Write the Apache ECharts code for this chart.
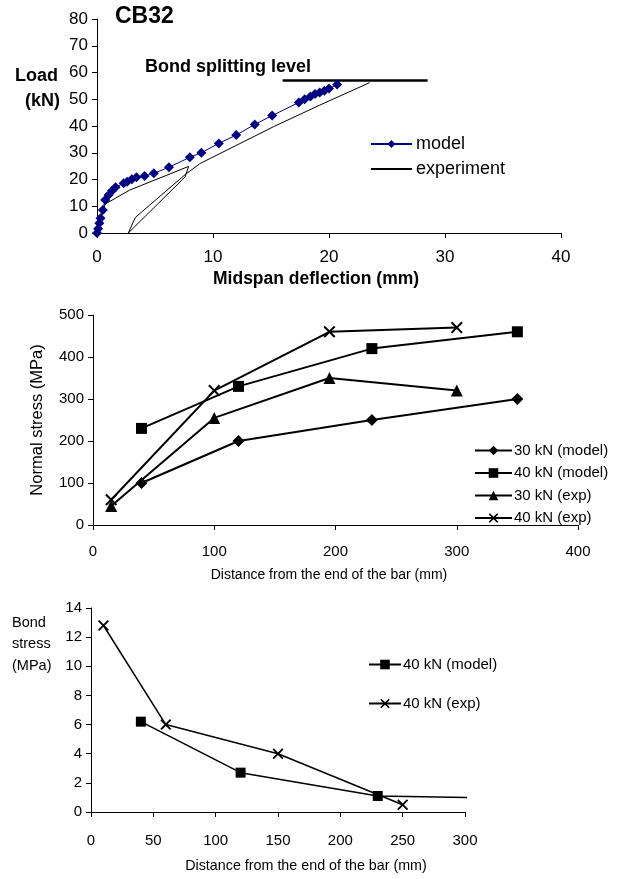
<!DOCTYPE html>
<html><head><meta charset="utf-8">
<script src="https://cdn.jsdelivr.net/npm/echarts@6/dist/echarts.min.js"></script>
<style>html,body{margin:0;padding:0;background:#fff}#c{width:628px;height:879px}</style>
</head><body><div id="c"></div>
<script>
// ---- Chart 1: Load vs midspan deflection (CB32)
const modelX = [0,0.1,0.2,0.3,0.5,0.7,1.0,1.3,1.6,2.3,2.6,3.0,3.4,4.1,4.9,6.2,8.0,9.0,10.5,12.0,13.6,15.1,17.4,17.9,18.4,18.8,19.2,19.6,20.0,20.7];
const modelY = [0,1.6,3.6,5.5,8.6,12.3,14.2,15.8,17.1,18.6,19.2,20.1,20.8,21.3,22.3,24.6,28.3,30.0,33.5,36.6,40.6,43.9,48.8,50,51,52,52.5,53.2,54,55.5];
const expX = [0,0.3,0.7,2.8,7.9,7.6,2.7,3.3,7.7,8.9,15.2,19.2,23.5];
const expY = [0,5,10.8,16,24.9,21,0,5.8,22.2,26,39.7,47.8,56.2];
const splitX = [16,28.5];
const splitY = [57,57];
// ---- Chart 2: Normal stress vs distance
const ns30mX = [40,120,230,350], ns30mY = [100,200,250,300];
const ns40mX = [40,120,230,350], ns40mY = [230,330,420,460];
const ns30eX = [15,100,195,300], ns30eY = [45,255,350,320];
const ns40eX = [15,100,195,300], ns40eY = [60,320,460,470];
// ---- Chart 3: Bond stress vs distance
const bs40mX = [40,120,230,302], bs40mY = [6.2,2.7,1.1,1.0];
const bs40eX = [10,60,150,250], bs40eY = [12.8,6.0,4.0,0.5];

const zip = (a,b) => a.map((v,i)=>[v,b[i]]);
const F = '"Liberation Sans", Arial, sans-serif';
const XSYM = 'path://M0,1.2 L1.2,0 L5,3.8 L8.8,0 L10,1.2 L6.2,5 L10,8.8 L8.8,10 L5,6.2 L1.2,10 L0,8.8 L3.8,5 Z';

const axisBase = (size, margin, tickLen) => ({
  axisLine:{show:true,lineStyle:{color:'#000',width:1}},
  axisTick:{show:true,length:tickLen||5,lineStyle:{color:'#000'}},
  splitLine:{show:false},
  axisLabel:{color:'#000',fontFamily:F,fontSize:size,margin:margin}
});

const chart = echarts.init(document.getElementById('c'));
chart.setOption({
  animation:false,
  backgroundColor:'#fff',
  grid:[
    {left:97,top:19,width:464,height:214},
    {left:93,top:315,width:485,height:210},
    {left:91,top:608,width:374,height:204}
  ],
  xAxis:[
    Object.assign(axisBase(17,16),{gridIndex:0,type:'value',min:0,max:40,interval:10}),
    Object.assign(axisBase(15,19),{gridIndex:1,type:'value',min:0,max:400,interval:100,
      name:'Distance from the end of the bar (mm)',nameLocation:'middle',nameGap:43,
      nameTextStyle:{color:'#000',fontFamily:F,fontSize:14,padding:[0,13,0,0]}}),
    Object.assign(axisBase(15,21),{gridIndex:2,type:'value',min:0,max:300,interval:50,
      name:'Distance from the end of the bar (mm)',nameLocation:'middle',nameGap:47,
      nameTextStyle:{color:'#000',fontFamily:F,fontSize:14.3,padding:[0,0,0,56]}})
  ],
  yAxis:[
    Object.assign(axisBase(17,9),{gridIndex:0,type:'value',min:0,max:80,interval:10}),
    Object.assign(axisBase(15,9),{gridIndex:1,type:'value',min:0,max:500,interval:100,
      name:'Normal stress (MPa)',nameLocation:'middle',nameGap:47,
      nameTextStyle:{color:'#000',fontFamily:F,fontSize:16.5}}),
    Object.assign(axisBase(15,9),{gridIndex:2,type:'value',min:0,max:14,interval:2})
  ],
  legend:[
    {orient:'vertical',left:365,top:130,itemWidth:41,itemHeight:10,itemGap:7,
     data:['model',{name:'experiment',itemStyle:{opacity:0}}],
     textStyle:{color:'#000',fontFamily:F,fontSize:18,padding:[0,0,0,-1]}},
    {orient:'vertical',left:469,top:438,itemWidth:37,itemHeight:12,itemGap:7.5,
     data:['30 kN (model)','40 kN (model)','30 kN (exp)','40 kN (exp)'],
     textStyle:{color:'#000',fontFamily:F,fontSize:15,padding:[0,0,0,-3]}},
    {orient:'vertical',left:363,top:652,itemWidth:32,itemHeight:12,itemGap:24,
     data:['40 kN (model) ','40 kN (exp) '],
     textStyle:{color:'#000',fontFamily:F,fontSize:15,padding:[0,0,0,-3]}}
  ],
  series:[
    {name:'experiment',type:'line',xAxisIndex:0,yAxisIndex:0,data:zip(expX,expY),
     showSymbol:false,symbol:'none',lineStyle:{color:'#000',width:1},itemStyle:{color:'#000'}},
    {name:'model',type:'line',xAxisIndex:0,yAxisIndex:0,data:zip(modelX,modelY),
     symbol:'diamond',symbolSize:10,lineStyle:{color:'#000080',width:1},itemStyle:{color:'#000080'}},
    {name:'split',type:'line',xAxisIndex:0,yAxisIndex:0,data:zip(splitX,splitY),
     symbol:'none',lineStyle:{color:'#000',width:2.5}},

    {name:'30 kN (model)',type:'line',xAxisIndex:1,yAxisIndex:1,data:zip(ns30mX,ns30mY),
     symbol:'diamond',symbolSize:12,lineStyle:{color:'#000',width:2},itemStyle:{color:'#000'}},
    {name:'40 kN (model)',type:'line',xAxisIndex:1,yAxisIndex:1,data:zip(ns40mX,ns40mY),
     symbol:'rect',symbolSize:11,lineStyle:{color:'#000',width:2},itemStyle:{color:'#000'}},
    {name:'30 kN (exp)',type:'line',xAxisIndex:1,yAxisIndex:1,data:zip(ns30eX,ns30eY),
     symbol:'triangle',symbolSize:12,lineStyle:{color:'#000',width:2},itemStyle:{color:'#000'}},
    {name:'40 kN (exp)',type:'line',xAxisIndex:1,yAxisIndex:1,data:zip(ns40eX,ns40eY),
     symbol:XSYM,symbolSize:12,lineStyle:{color:'#000',width:2},itemStyle:{color:'#000'}},

    {name:'40 kN (model) ',type:'line',xAxisIndex:2,yAxisIndex:2,
     data:zip(bs40mX,bs40mY).map((p,i,a)=> i===a.length-1 ? {value:p,symbol:'none'} : p),
     symbol:'rect',symbolSize:10,lineStyle:{color:'#000',width:1.5},itemStyle:{color:'#000'}},
    {name:'40 kN (exp) ',type:'line',xAxisIndex:2,yAxisIndex:2,data:zip(bs40eX,bs40eY),
     symbol:XSYM,symbolSize:11,lineStyle:{color:'#000',width:1.5},itemStyle:{color:'#000'}}
  ],
  graphic:[
    {type:'text',left:115,top:5,style:{text:'CB32',font:'bold 23px '+F,fill:'#000'}},
    {type:'text',left:145,top:58,style:{text:'Bond splitting level',font:'bold 18px '+F,fill:'#000'}},
    {type:'text',left:15,top:67,style:{text:'Load',font:'bold 18px '+F,fill:'#000'}},
    {type:'text',left:25,top:92,style:{text:'(kN)',font:'bold 18px '+F,fill:'#000'}},
    {type:'text',left:213,top:270,style:{text:'Midspan deflection (mm)',font:'bold 17.5px '+F,fill:'#000'}},
    {type:'text',left:12,top:612,style:{text:'Bond\nstress\n(MPa)',font:'14.5px '+F,fill:'#000',lineHeight:21.5}}
  ]
});
</script></body></html>
